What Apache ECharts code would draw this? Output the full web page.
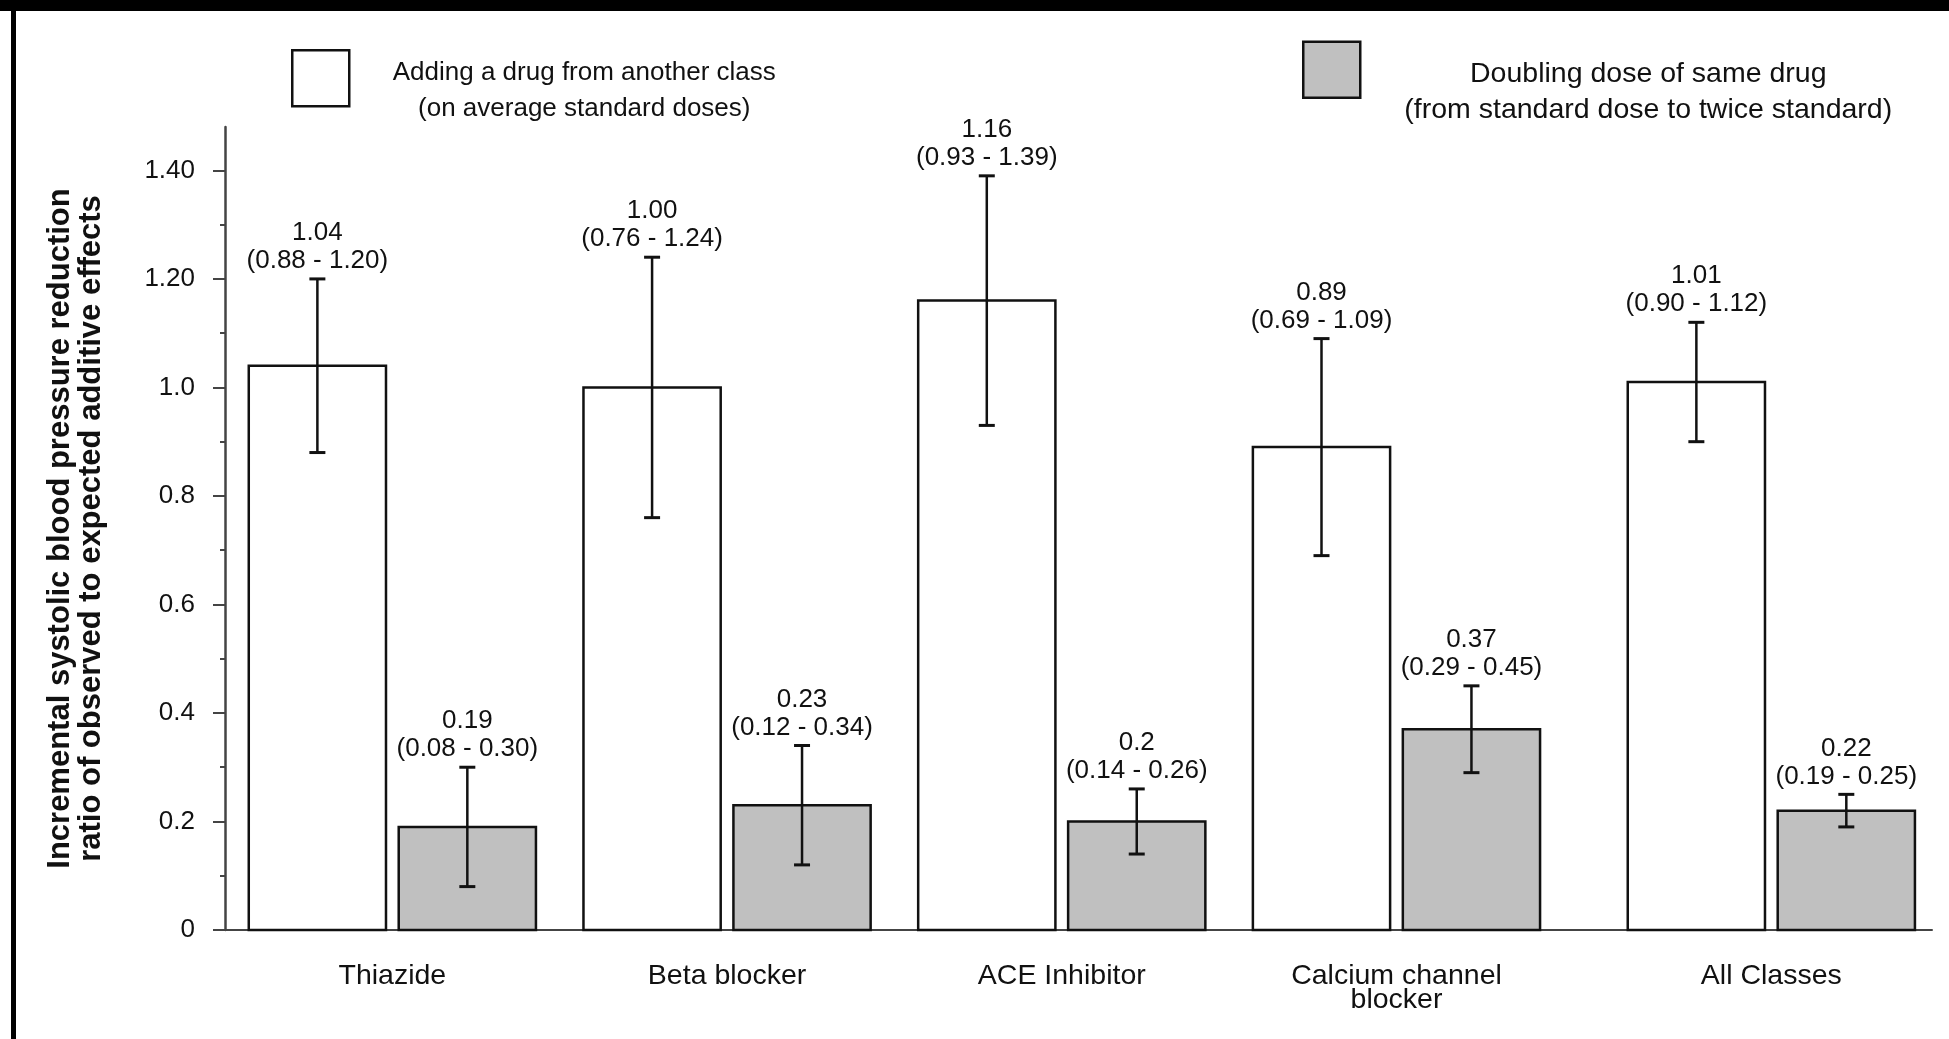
<!DOCTYPE html>
<html>
<head>
<meta charset="utf-8">
<script src="https://cdn.jsdelivr.net/npm/echarts@6/dist/echarts.min.js"></script>
<style>
  html, body { margin:0; padding:0; background:#fff; }
  #chart { position:absolute; left:0; top:0; width:1949px; height:1039px; }
  .frameTop { position:absolute; left:0; top:0; width:1949px; height:11px; background:#000; pointer-events:none; }
  .frameLeft { position:absolute; left:11px; top:0; width:5px; height:1039px; background:#000; pointer-events:none; }
</style>
</head>
<body>
<div id="chart"></div>
<div class="frameTop"></div>
<div class="frameLeft"></div>
<script>
// ---- data ----
const categories = ['Thiazide', 'Beta blocker', 'ACE Inhibitor', 'Calcium channel\nblocker', 'All Classes'];
const groupPositions = [1, 2, 3, 4, 5.12];

const addingValues = [1.04, 1.00, 1.16, 0.89, 1.01];
const addingLow    = [0.88, 0.76, 0.93, 0.69, 0.90];
const addingHigh   = [1.20, 1.24, 1.39, 1.09, 1.12];
const addingValueLabels = ['1.04', '1.00', '1.16', '0.89', '1.01'];
const addingRangeLabels = ['(0.88 - 1.20)', '(0.76 - 1.24)', '(0.93 - 1.39)', '(0.69 - 1.09)', '(0.90 - 1.12)'];

const doublingValues = [0.19, 0.23, 0.20, 0.37, 0.22];
const doublingLow    = [0.08, 0.12, 0.14, 0.29, 0.19];
const doublingHigh   = [0.30, 0.34, 0.26, 0.45, 0.25];
const doublingValueLabels = ['0.19', '0.23', '0.2', '0.37', '0.22'];
const doublingRangeLabels = ['(0.08 - 0.30)', '(0.12 - 0.34)', '(0.14 - 0.26)', '(0.29 - 0.45)', '(0.19 - 0.25)'];

const yTickValues = [0, 0.2, 0.4, 0.6, 0.8, 1.0, 1.2, 1.4];
const yTickLabels = ['0', '0.2', '0.4', '0.6', '0.8', '1.0', '1.20', '1.40'];
const yMinorTickValues = [0.1, 0.3, 0.5, 0.7, 0.9, 1.1, 1.3];

const legendNames = ['Adding a drug from another class', 'Doubling dose of same drug'];
const legendSubtitles = ['(on average standard doses)', '(from standard dose to twice standard)'];

const yAxisTitle = 'Incremental systolic blood pressure reduction\nratio of observed to expected additive effects';

// ---- styling ----
const FONT = '"Liberation Sans", Arial, sans-serif';
const BAR_W = 0.41;
const BAR_OFFSET = 0.224;
const INK = '#111';
const AXIS = '#444';

function makeSeries(name, values, lows, highs, vLabels, rLabels, offset, fill) {
  const data = groupPositions.map((p, i) => [p + offset, values[i], lows[i], highs[i], i]);
  return {
    type: 'custom',
    name: name,
    data: data,
    itemStyle: { color: fill, borderColor: INK },
    encode: { x: 0, y: [1, 2, 3] },
    renderItem: function (params, api) {
      const x = api.value(0), v = api.value(1), lo = api.value(2), hi = api.value(3), i = api.value(4);
      const pA = api.coord([x - BAR_W / 2, 0]);
      const pB = api.coord([x + BAR_W / 2, v]);
      const pLo = api.coord([x, lo]);
      const pHi = api.coord([x, hi]);
      const cap = 8;
      return {
        type: 'group',
        children: [
          { type: 'rect', shape: { x: pA[0], y: pB[1], width: pB[0] - pA[0], height: pA[1] - pB[1] },
            style: { fill: fill, stroke: INK, lineWidth: 2.5 } },
          { type: 'line', shape: { x1: pLo[0], y1: pLo[1], x2: pHi[0], y2: pHi[1] }, style: { stroke: INK, lineWidth: 2.5 } },
          { type: 'line', shape: { x1: pLo[0] - cap, y1: pLo[1], x2: pLo[0] + cap, y2: pLo[1] }, style: { stroke: INK, lineWidth: 3 } },
          { type: 'line', shape: { x1: pHi[0] - cap, y1: pHi[1], x2: pHi[0] + cap, y2: pHi[1] }, style: { stroke: INK, lineWidth: 3 } },
          { type: 'text', x: pHi[0], y: pHi[1] - 4,
            style: { text: vLabels[i] + '\n' + rLabels[i], fill: INK, fontSize: 26, fontFamily: FONT,
                     lineHeight: 28, align: 'center', verticalAlign: 'bottom' } }
        ]
      };
    }
  };
}

function legendFor(idx, left, top, width, padTop, fill, size) {
  return {
    left: left, top: top, orient: 'horizontal', itemGap: 0,
    itemWidth: 57, itemHeight: 56, selectedMode: false,
    data: [{ name: legendNames[idx], icon: 'rect',
             itemStyle: { color: fill, borderColor: INK, borderWidth: 2.5 } }],
    formatter: function () { return '{t|' + legendNames[idx] + '}\n{t|' + legendSubtitles[idx] + '}'; },
    textStyle: {
      padding: [padTop, 0, 0, 0],
      rich: { t: { width: width, align: 'center', fontSize: size, lineHeight: 36, fontFamily: FONT, color: INK } }
    }
  };
}

const chart = echarts.init(document.getElementById('chart'), null, { renderer: 'canvas' });
chart.setOption({
  backgroundColor: '#fff',
  animation: false,
  textStyle: { fontFamily: FONT },
  legend: [
    legendFor(0, 286, 44, 460, 26, '#fff', 26),
    legendFor(1, 1297, 35.5, 566, 45, '#c0c0c0', 28.5)
  ],
  grid: { left: 225, top: 127, right: 17, bottom: 109 },
  xAxis: {
    type: 'value', min: 0.5, max: 5.6,
    splitLine: { show: false },
    axisLine: { show: true, onZero: false, lineStyle: { color: AXIS, width: 2 } },
    axisTick: { show: false },
    axisLabel: {
      customValues: groupPositions,
      formatter: function (v) {
        const i = groupPositions.findIndex(p => Math.abs(p - v) < 1e-6);
        return i >= 0 ? categories[i] : '';
      },
      margin: 34, fontSize: 28.5, lineHeight: 24, color: INK, fontFamily: FONT, verticalAlign: 'top'
    }
  },
  yAxis: [
    {
      type: 'value', min: 0, max: 1.48, position: 'left',
      name: yAxisTitle, nameLocation: 'middle', nameRotate: 90, nameGap: 118,
      nameTextStyle: { fontSize: 31, fontWeight: 'bold', lineHeight: 31, color: INK, fontFamily: FONT, align: 'center' },
      splitLine: { show: false },
      axisLine: { show: true, lineStyle: { color: AXIS, width: 2.5 } },
      axisTick: { show: true, customValues: yTickValues, length: 12, lineStyle: { color: AXIS, width: 2 } },
      axisLabel: {
        customValues: yTickValues,
        formatter: function (v) {
          const i = yTickValues.findIndex(t => Math.abs(t - v) < 1e-6);
          return i >= 0 ? yTickLabels[i] : '';
        },
        margin: 30, fontSize: 26, color: INK, fontFamily: FONT
      }
    },
    {
      type: 'value', min: 0, max: 1.48, position: 'left', offset: 0,
      splitLine: { show: false },
      axisLine: { show: false },
      axisTick: { show: true, customValues: yMinorTickValues, length: 5, lineStyle: { color: AXIS, width: 2 } },
      axisLabel: { show: false }
    }
  ],
  series: [
    makeSeries(legendNames[0], addingValues, addingLow, addingHigh, addingValueLabels, addingRangeLabels, -BAR_OFFSET, '#ffffff'),
    makeSeries(legendNames[1], doublingValues, doublingLow, doublingHigh, doublingValueLabels, doublingRangeLabels, BAR_OFFSET, '#c0c0c0')
  ]
});
</script>
</body>
</html>
